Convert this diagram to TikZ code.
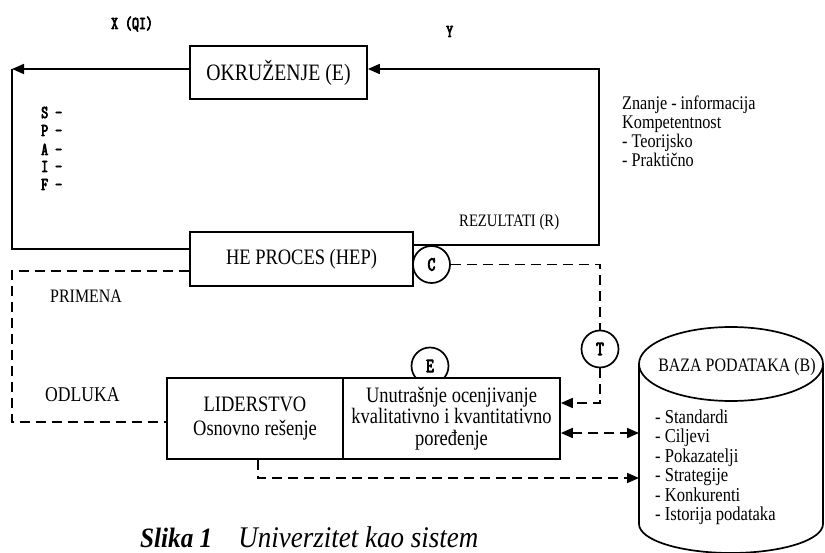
\documentclass[tikz,border=0pt]{standalone}
\usepackage{fontspec}
\setmainfont{Liberation Serif}[FakeStretch=0.84]
\newfontfamily\capfont{Liberation Serif}[FakeStretch=0.9]
\newfontfamily\monof{Latin Modern Mono}[FakeStretch=0.75, FakeBold=4]
\usetikzlibrary{arrows.meta,calc}
\begin{document}
\begin{tikzpicture}[x=1pt,y=-1pt,
  ln/.style={line width=1.7pt},
  dsh/.style={line width=1.7pt, dash pattern=on 10pt off 6pt},
  arr/.style={-{Triangle[length=12pt,width=10pt]}},
  darr/.style={{Triangle[length=12pt,width=10pt]}-{Triangle[length=12pt,width=10pt]}},
  box/.style={draw, line width=1.7pt, fill=white, inner sep=0pt, align=center},
  circ/.style={draw, circle, line width=1.7pt, fill=white, minimum size=37pt, inner sep=0pt, font=\monof\fontsize{20}{20}\selectfont},
  mtxt/.style={font=\fontsize{22}{24}\selectfont},
  stxt/.style={inner sep=0pt, anchor=base west, font=\fontsize{19.3}{19.3}\selectfont},
  ltxt/.style={inner sep=0pt, anchor=base west, font=\fontsize{19.7}{19.7}\selectfont},
  mono/.style={inner sep=0pt, anchor=base west, font=\monof\fontsize{18}{18}\selectfont}
]
\useasboundingbox (0,0) rectangle (825,553);

% boxes and circles
\node[box, minimum width=177pt, minimum height=53pt, font=\fontsize{23.5}{24}\selectfont] (okr) at (278.5,72.5) {OKRUŽENJE (E)};
\node[box, minimum width=223pt, minimum height=54pt, mtxt] (hep) at (301.5,259) {HE PROCES (HEP)};
\node[circ] (cE) at (430,366) {E};
\node[box, minimum width=176pt, minimum height=81pt, mtxt] (lid) at (255,418.5) {LIDERSTVO\\Osnovno rešenje};
\node[box, minimum width=217pt, minimum height=81pt, font=\fontsize{22}{21.5}\selectfont] (unu) at (451.5,418.5) {Unutrašnje ocenjivanje\\kvalitativno i kvantitativno\\poređenje};
\node[circ] (cC) at (431.5,264.5) {C};
\node[circ] (cT) at (600,349) {T};

% cylinder
\draw[ln] (639,364) -- (639,524) arc[start angle=180, end angle=0, x radius=92, y radius=29] -- (823,364);
\draw[ln] (731,364) ellipse [x radius=92, y radius=37];
\coordinate (bzA) at (639,433);
\coordinate (bzB) at (639,478);
\node[inner sep=0pt, anchor=base, font=\fontsize{19}{19}\selectfont] (bzt) at (737,371) {BAZA PODATAKA (B)};
\node[ltxt] (b1) at (655,423) {- Standardi};
\node[ltxt] (b2) at (655,442.5) {- Ciljevi};
\node[ltxt] (b3) at (655,462) {- Pokazatelji};
\node[ltxt] (b4) at (655,481.5) {- Strategije};
\node[ltxt] (b5) at (655,501) {- Konkurenti};
\node[ltxt] (b6) at (655,520.5) {- Istorija podataka};

% labels
\node[mono] (xqi) at (111,29) {X (QI)};
\node[mono] (ylab) at (446,37) {Y};
\node[mono] (sS) at (41,118) {S –};
\node[mono] (sP) at (41,136) {P –};
\node[mono] (sA) at (41,155) {A -};
\node[mono] (sI) at (41,172) {I –};
\node[mono] (sF) at (41,190) {F –};
\node[stxt] (z1) at (622,110) {Znanje - informacija};
\node[stxt] (z2) at (622,129) {Kompetentnost};
\node[stxt] (z3) at (622,148) {- Teorijsko};
\node[stxt] (z4) at (622,167) {- Praktično};
\node[inner sep=0pt, anchor=base west, font=\fontsize{17.5}{17.5}\selectfont] (rez) at (459,227) {REZULTATI (R)};
\node[inner sep=0pt, anchor=base west, font=\fontsize{19}{19}\selectfont] (prim) at (50,303) {PRIMENA};
\node[inner sep=0pt, anchor=base west, font=\fontsize{21}{21}\selectfont] (odl) at (45,402) {ODLUKA};
\node[inner sep=0pt, anchor=base west, font=\capfont] (cap) at (140,547) {{\fontsize{28}{28}\selectfont\bfseries\itshape Slika 1}\hspace{26pt}{\fontsize{30}{30}\selectfont\itshape Univerzitet kao sistem}};

% solid loop
\coordinate (cL) at (12,69);
\coordinate (cR) at (599,69);
\coordinate (lb) at (12,249);
\coordinate (rb) at (599,245);
\draw[ln,arr] (okr.west |- cL) -- (cL);
\draw[ln] (cL) -- (lb) -- (lb -| hep.west);
\draw[ln,arr] (rb -| hep.east) -- (rb) -- (cR) -- (okr.east |- cR);

% dashed connectors
\coordinate (dl1) at (12,271);
\coordinate (dl2) at (12,422);
\draw[dsh] (dl1 -| hep.west) -- (dl1) -- (dl2) -- (dl2 -| lid.west);
\coordinate (dr1) at (600,264.5);
\coordinate (dr2) at (600,403);
\draw[dsh] (cC.east) -- (dr1) -- (cT.north);
\draw[dsh,arr] (cT.south) -- (dr2) -- (dr2 -| unu.east);
\draw[dsh,darr] (unu.east |- bzA) -- (bzA);
\coordinate (lb2) at (258,478);
\draw[dsh,arr] (lb2 |- lid.south) -- (lb2) -- (bzB);
\end{tikzpicture}
\end{document}
